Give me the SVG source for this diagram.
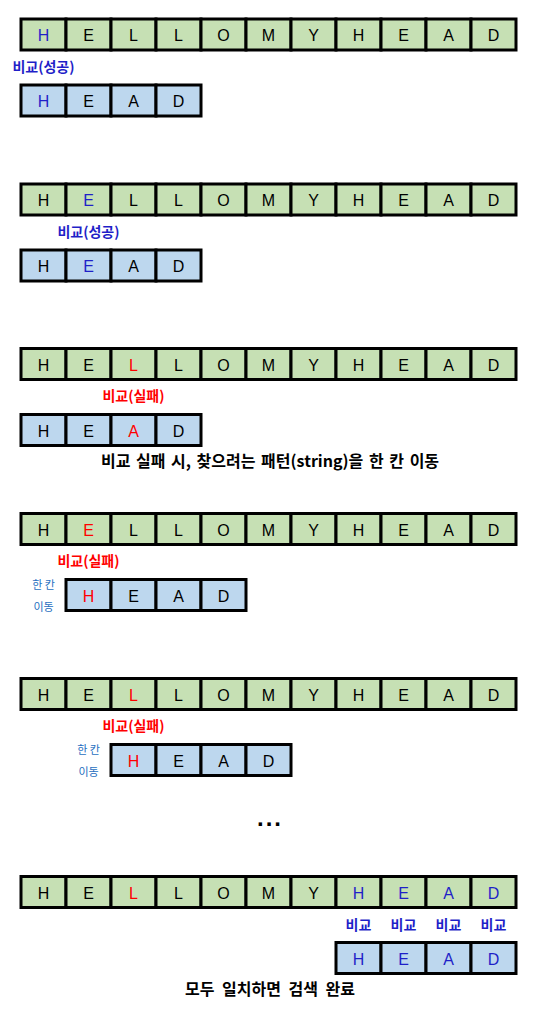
<svg xmlns="http://www.w3.org/2000/svg" width="539" height="1017" viewBox="0 0 539 1017">
<style>
.t{fill:#c6e0b4;stroke:#000;stroke-width:3}
.p{fill:#bdd7ee;stroke:#000;stroke-width:3}
.c{font-family:"Liberation Sans",Arial,sans-serif;font-size:16px;text-anchor:middle;fill:#000}
.b{fill:#1f1fc8}
.r{fill:#ff0000}
.k{font-family:"Noto Sans CJK KR",sans-serif;font-weight:bold;text-anchor:middle}
.lb{font-size:14px;fill:#1f1fc8}
.lr{font-size:14px;fill:#ff0000}
.sm{font-family:"Noto Sans CJK KR",sans-serif;font-size:11px;text-anchor:middle;fill:#1f6fbf}
.cap{font-size:16px;fill:#000;word-spacing:2px}
</style>
<defs>
<g id="row">
<rect class="t" x="21" y="0" width="45" height="31"/><rect class="t" x="66" y="0" width="45" height="31"/><rect class="t" x="111" y="0" width="45" height="31"/><rect class="t" x="156" y="0" width="45" height="31"/><rect class="t" x="201" y="0" width="45" height="31"/><rect class="t" x="246" y="0" width="45" height="31"/><rect class="t" x="291" y="0" width="45" height="31"/><rect class="t" x="336" y="0" width="45" height="31"/><rect class="t" x="381" y="0" width="45" height="31"/><rect class="t" x="426" y="0" width="45" height="31"/><rect class="t" x="471" y="0" width="45" height="31"/>
</g>
<g id="pat">
<rect class="p" x="0" y="0" width="45" height="31"/><rect class="p" x="45" y="0" width="45" height="31"/><rect class="p" x="90" y="0" width="45" height="31"/><rect class="p" x="135" y="0" width="45" height="31"/>
</g>
</defs>

<g id="step1">
<use href="#row" y="19"/>
<g class="c" transform="translate(0,41)"><text x="43.5" class="b">H</text><text x="88.5">E</text><text x="133.5">L</text><text x="178.5">L</text><text x="223.5">O</text><text x="268.5">M</text><text x="313.5">Y</text><text x="358.5">H</text><text x="403.5">E</text><text x="448.5">A</text><text x="493.5">D</text></g>
<text class="k lb" x="43.5" y="72">비교(성공)</text>
<use href="#pat" x="21" y="85"/>
<g class="c" transform="translate(0,107)"><text x="43.5" class="b">H</text><text x="88.5">E</text><text x="133.5">A</text><text x="178.5">D</text></g>
</g>

<g id="step2">
<use href="#row" y="184"/>
<g class="c" transform="translate(0,206)"><text x="43.5">H</text><text x="88.5" class="b">E</text><text x="133.5">L</text><text x="178.5">L</text><text x="223.5">O</text><text x="268.5">M</text><text x="313.5">Y</text><text x="358.5">H</text><text x="403.5">E</text><text x="448.5">A</text><text x="493.5">D</text></g>
<text class="k lb" x="88.5" y="237">비교(성공)</text>
<use href="#pat" x="21" y="250"/>
<g class="c" transform="translate(0,272)"><text x="43.5">H</text><text x="88.5" class="b">E</text><text x="133.5">A</text><text x="178.5">D</text></g>
</g>

<g id="step3">
<use href="#row" y="348.5"/>
<g class="c" transform="translate(0,370.5)"><text x="43.5">H</text><text x="88.5">E</text><text x="133.5" class="r">L</text><text x="178.5">L</text><text x="223.5">O</text><text x="268.5">M</text><text x="313.5">Y</text><text x="358.5">H</text><text x="403.5">E</text><text x="448.5">A</text><text x="493.5">D</text></g>
<text class="k lr" x="133.5" y="401">비교(실패)</text>
<use href="#pat" x="21" y="414.5"/>
<g class="c" transform="translate(0,436.5)"><text x="43.5">H</text><text x="88.5">E</text><text x="133.5" class="r">A</text><text x="178.5">D</text></g>
<text class="k cap" x="270" y="467">비교 실패 시, 찾으려는 패턴(string)을 한 칸 이동</text>
</g>

<g id="step4">
<use href="#row" y="513.5"/>
<g class="c" transform="translate(0,535.5)"><text x="43.5">H</text><text x="88.5" class="r">E</text><text x="133.5">L</text><text x="178.5">L</text><text x="223.5">O</text><text x="268.5">M</text><text x="313.5">Y</text><text x="358.5">H</text><text x="403.5">E</text><text x="448.5">A</text><text x="493.5">D</text></g>
<text class="k lr" x="88.5" y="566">비교(실패)</text>
<text class="sm" x="43.5" y="589">한 칸</text>
<text class="sm" x="43.5" y="611">이동</text>
<use href="#pat" x="66" y="579.5"/>
<g class="c" transform="translate(0,601.5)"><text x="88.5" class="r">H</text><text x="133.5">E</text><text x="178.5">A</text><text x="223.5">D</text></g>
</g>

<g id="step5">
<use href="#row" y="678.5"/>
<g class="c" transform="translate(0,700.5)"><text x="43.5">H</text><text x="88.5">E</text><text x="133.5" class="r">L</text><text x="178.5">L</text><text x="223.5">O</text><text x="268.5">M</text><text x="313.5">Y</text><text x="358.5">H</text><text x="403.5">E</text><text x="448.5">A</text><text x="493.5">D</text></g>
<text class="k lr" x="133.5" y="731">비교(실패)</text>
<text class="sm" x="88.5" y="754">한 칸</text>
<text class="sm" x="88.5" y="776">이동</text>
<use href="#pat" x="111" y="744.5"/>
<g class="c" transform="translate(0,766.5)"><text x="133.5" class="r">H</text><text x="178.5">E</text><text x="223.5">A</text><text x="268.5">D</text></g>
</g>

<text id="ellipsis" x="270" y="826" style="font-family:'Liberation Sans',sans-serif;font-weight:bold;font-size:24px;letter-spacing:2px;text-anchor:middle;fill:#000">...</text>

<g id="step6">
<use href="#row" y="876.5"/>
<g class="c" transform="translate(0,898.5)"><text x="43.5">H</text><text x="88.5">E</text><text x="133.5" class="r">L</text><text x="178.5">L</text><text x="223.5">O</text><text x="268.5">M</text><text x="313.5">Y</text><text x="358.5" class="b">H</text><text x="403.5" class="b">E</text><text x="448.5" class="b">A</text><text x="493.5" class="b">D</text></g>
<text class="k lb" x="358.5" y="930">비교</text>
<text class="k lb" x="403.5" y="930">비교</text>
<text class="k lb" x="448.5" y="930">비교</text>
<text class="k lb" x="493.5" y="930">비교</text>
<use href="#pat" x="336" y="942.5"/>
<g class="c" transform="translate(0,964.5)"><text x="358.5" class="b">H</text><text x="403.5" class="b">E</text><text x="448.5" class="b">A</text><text x="493.5" class="b">D</text></g>
<text class="k cap" x="270" y="995" style="word-spacing:4px">모두 일치하면 검색 완료</text>
</g>
</svg>
